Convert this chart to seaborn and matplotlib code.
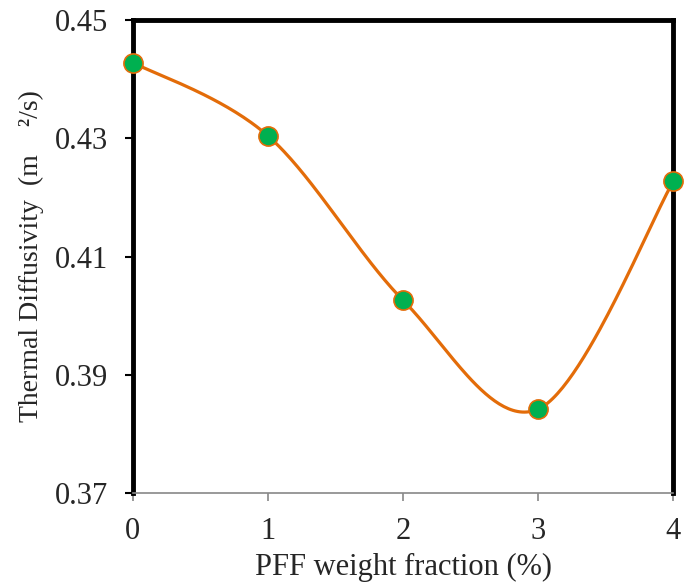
import numpy as np
import pandas as pd
import matplotlib
matplotlib.use("Agg")
import matplotlib.pyplot as plt
import seaborn as sns

# data
weight_fraction = [0, 1, 2, 3, 4]
diffusivity = [0.4428, 0.4304, 0.4026, 0.3842, 0.4227]
x_ticks = [0, 1, 2, 3, 4]
y_ticks = [0.37, 0.39, 0.41, 0.43, 0.45]

sns.set_theme(style="white")
plt.rcParams['font.family'] = ['Liberation Serif', 'DejaVu Serif']


def smooth_curve(xs, ys, n=60, tension=0.5):
    # Catmull-Rom style smoothing, similar to Excel's smoothed line
    xs = np.asarray(xs, float)
    ys = np.asarray(ys, float)
    px = np.concatenate([[xs[0]], xs, [xs[-1]]])
    py = np.concatenate([[ys[0]], ys, [ys[-1]]])
    out_x, out_y = [], []
    for i in range(1, len(px) - 2):
        p0 = np.array([px[i], py[i]])
        p3 = np.array([px[i + 1], py[i + 1]])
        p1 = p0 + (np.array([px[i + 1], py[i + 1]]) - np.array([px[i - 1], py[i - 1]])) * tension / 3
        p2 = p3 - (np.array([px[i + 2], py[i + 2]]) - np.array([px[i], py[i]])) * tension / 3
        t = np.linspace(0, 1, n)[:, None]
        pts = ((1 - t) ** 3) * p0 + 3 * ((1 - t) ** 2) * t * p1 + 3 * (1 - t) * t ** 2 * p2 + t ** 3 * p3
        out_x.extend(pts[:, 0])
        out_y.extend(pts[:, 1])
    return np.array(out_x), np.array(out_y)


cx, cy = smooth_curve(weight_fraction, diffusivity, tension=0.5)
curve = pd.DataFrame({'x': cx, 'y': cy})
points = pd.DataFrame({'x': weight_fraction, 'y': diffusivity})

fig = plt.figure(figsize=(6.92, 5.87), dpi=100)
ax = fig.add_axes([0.192, 0.160, 0.781, 0.806])

sns.lineplot(data=curve, x='x', y='y', sort=False, color='#E36C09', linewidth=2.3, ax=ax)
sns.scatterplot(data=points, x='x', y='y', s=190, color='#00B050', edgecolor='#E36C09',
                linewidth=1.2, zorder=5, clip_on=False, ax=ax)

ax.set_xlim(0, 4)
ax.set_ylim(0.37, 0.45)
ax.set_xticks(x_ticks)
ax.set_yticks(y_ticks)
ax.set_xticklabels([str(v) for v in x_ticks])
ax.set_yticklabels([f"{v:.2f}" for v in y_ticks])

for side in ['left', 'top', 'right']:
    ax.spines[side].set_color('black')
    ax.spines[side].set_linewidth(3.5)
ax.spines['bottom'].set_color('#888888')
ax.spines['bottom'].set_linewidth(1.2)

ax.tick_params(axis='y', direction='out', length=6, width=1.5, color='black',
               labelsize=22, pad=12, left=True)
ax.tick_params(axis='x', direction='out', length=6, width=1.2, color='#888888',
               labelsize=22, pad=11, bottom=True)

ax.set_xlabel('PFF weight fraction (%)', fontsize=22, labelpad=5)
ax.set_ylabel('Thermal Diffusivity  (m    ²/s)', fontsize=20, labelpad=8)
ax.grid(False)

fig.savefig('out.png', dpi=100)
